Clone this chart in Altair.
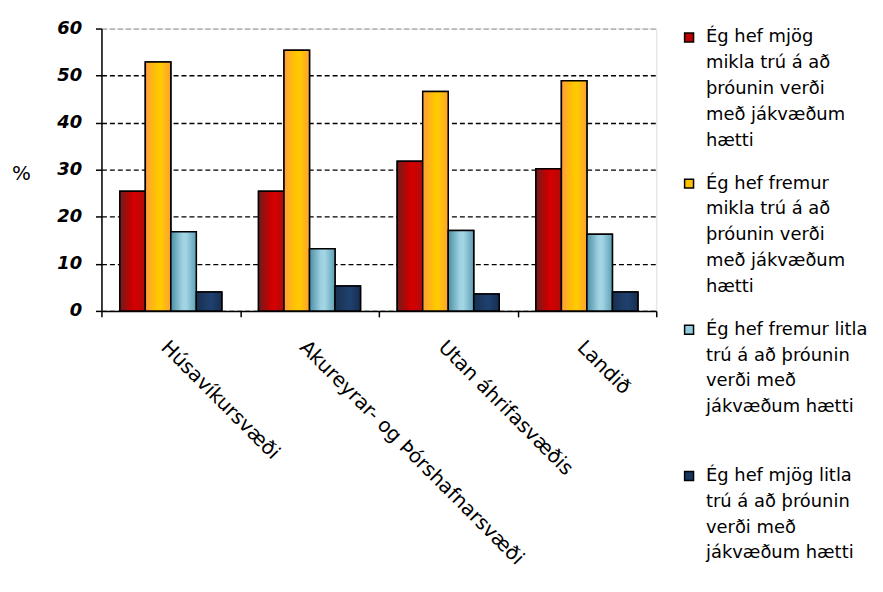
import altair as alt
import pandas as pd

categories = ["Húsavíkursvæði", "Akureyrar- og Þórshafnarsvæði", "Utan áhrifasvæðis", "Landið"]
series = [
    "Ég hef mjög\nmikla trú á að\nþróunin verði\nmeð jákvæðum\nhætti",
    "Ég hef fremur\nmikla trú á að\nþróunin verði\nmeð jákvæðum\nhætti",
    "Ég hef fremur litla\ntrú á að þróunin\nverði með\njákvæðum hætti",
    "Ég hef mjög litla\ntrú á að þróunin\nverði með\njákvæðum hætti",
]
mjog_mikla = [25.4, 25.4, 31.8, 30.2]
fremur_mikla = [52.9, 55.4, 46.6, 48.9]
fremur_litla = [16.8, 13.2, 17.1, 16.3]
mjog_litla = [4.0, 5.3, 3.6, 4.0]
y_ticks = [0, 10, 20, 30, 40, 50, 60]

legend_colors = ["#C00000", "#FFC000", "#93CDDD", "#17375E"]
gradient_stops = [
    ["#6e1c1c", "#c80000", "#d60000", "#b00a0a"],
    ["#ff9e3a", "#ffc400", "#ffcc00", "#ffa030"],
    ["#4b8ea3", "#9ed2e2", "#a3d5e4", "#5d9fb4"],
    ["#182f50", "#1e3e68", "#1f4070", "#172e4f"],
]

rows = []
for sid, vals in enumerate([mjog_mikla, fremur_mikla, fremur_litla, mjog_litla]):
    for cat, v in zip(categories, vals):
        rows.append({"category": cat, "series": series[sid], "sid": sid, "value": v})
df = pd.DataFrame(rows)

FONT = "DejaVu Sans"

x_enc = alt.X(
    "category:N", sort=categories,
    scale=alt.Scale(paddingInner=0, paddingOuter=0),
    axis=alt.Axis(
        title=None, labelAngle=45, labelAlign="left", labelBaseline="top",
        labelFont=FONT, labelFontSize=20, labelColor="black", labelPadding=20,
        labelLimit=600, tickBand="extent", tickSize=6, tickColor="black",
        tickWidth=1.5, domainColor="black", domainWidth=1.5, grid=False,
    ),
)
xoff_enc = alt.XOffset("series:N", sort=series,
                       scale=alt.Scale(domain=series, paddingInner=0, paddingOuter=0.72))
y_enc = alt.Y(
    "value:Q",
    scale=alt.Scale(domain=[0, 60], nice=False),
    axis=alt.Axis(
        values=y_ticks, labelFont=FONT, labelFontSize=18, labelFontWeight="bold",
        labelFontStyle="italic", labelColor="black", labelPadding=14,
        tickSize=6, tickColor="black", tickWidth=1.5,
        domainColor="black", domainWidth=1.5,
        grid=True, gridDash=[5, 3], gridWidth=1.3,
        gridColor={"condition": {"test": "datum.value === 60", "value": "#a0a0a0"}, "value": "black"},
        title="%", titleAngle=0, titleX=-81, titleY=146, titleAlign="center",
        titleBaseline="middle", titleFont=FONT, titleFontSize=20,
        titleFontWeight="normal", titleColor="black",
    ),
)

base = alt.Chart(df).encode(x=x_enc, xOffset=xoff_enc, y=y_enc)

legend_layer = base.mark_bar(stroke="black", strokeWidth=1.5).encode(
    fill=alt.Fill(
        "series:N",
        scale=alt.Scale(domain=series, range=legend_colors),
        legend=alt.Legend(
            title=None, orient="right", offset=24, padding=0,
            symbolType="square", symbolSize=81, symbolStrokeColor="black",
            symbolStrokeWidth=1.5, labelFont=FONT, labelFontSize=18,
            labelColor="black", labelOffset=8, labelLimit=400,
            labelExpr="split(datum.label + (indexof(datum.label, 'fremur litla') >= 0 ? '\\n ' : ''), '\\n')",
            rowPadding=25,
        ),
    )
)

layers = [legend_layer]
for sid in range(4):
    stops = gradient_stops[sid]
    grad = alt.Gradient(
        gradient="linear", x1=0, x2=1, y1=0, y2=0,
        stops=[
            alt.GradientStop(color=stops[0], offset=0),
            alt.GradientStop(color=stops[1], offset=0.45),
            alt.GradientStop(color=stops[2], offset=0.6),
            alt.GradientStop(color=stops[3], offset=1),
        ],
    )
    layers.append(
        base.transform_filter(alt.datum.sid == sid)
        .mark_bar(fill=grad, stroke="black", strokeWidth=1.5)
    )

chart = (
    alt.layer(*layers)
    .properties(
        width=558, height=284,
        autosize=alt.AutoSizeParams(type="none"),
        padding={"left": 94, "top": 19, "right": 220, "bottom": 268},
    )
    .configure_view(stroke="#a0a0a0", strokeWidth=1.5)
    .configure(font=FONT, style={"guide-label": {"lineHeight": 26}})
)

chart.save("out.html", embed_options={"renderer": "svg", "actions": False})
